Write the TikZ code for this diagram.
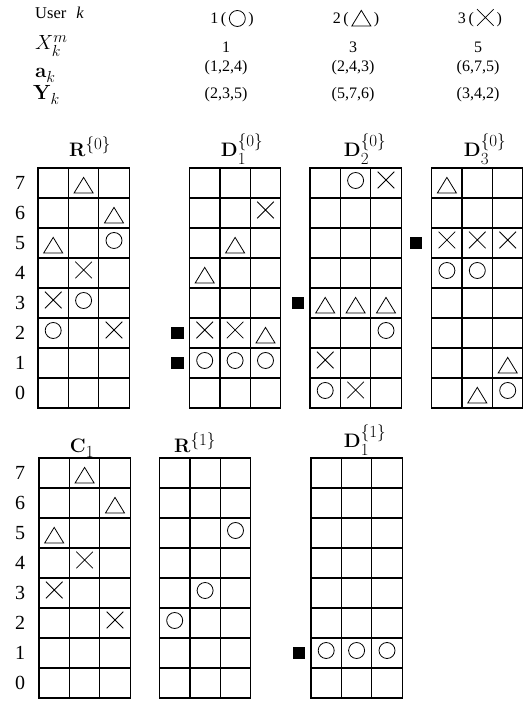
\RequirePackage{fix-cm}
\documentclass[tikz,border=0pt]{standalone}
\usepackage{amsmath,amssymb}
\usepackage[no-math]{fontspec}
\setmainfont{Liberation Serif}
\usepackage{tikz}
\usetikzlibrary{positioning}
\DeclareMathSizes{19.5}{19.5}{17}{14}
\DeclareMathSizes{20.5}{20.5}{16}{13}

\tikzset{
  cellgrid/.style={line width=1.3pt, line cap=rect},
  symline/.style={line width=0.8pt},
  hdr/.style={inner sep=0pt, font=\fontsize{16.5}{19}\selectfont},
  hval/.style={inner sep=0pt, anchor=base, font=\fontsize{16}{19}\selectfont},
  mathlab/.style={inner sep=0pt, anchor=base west, font=\fontsize{20.5}{24}\selectfont},
  ttl/.style={inner sep=0pt, anchor=base, font=\fontsize{19.5}{23}\selectfont},
  rowlab/.style={inner sep=0pt, font=\fontsize{20}{23}\selectfont},
  selbox/.style={fill=black, inner sep=0pt, minimum size=12.5pt},
  board/.pic={
    \foreach \c in {0,...,3} \draw[cellgrid] (\c,0) -- (\c,8);
    \foreach \r in {0,...,8} \draw[cellgrid] (0,\r) -- (3,\r);
  },
  circ/.pic={\draw[symline] (0,2.5pt) circle[radius=8pt];},
  tri/.pic={\draw[symline] (-9.5pt,-10pt) -- (9.5pt,-10pt) -- (0,5.6pt) -- cycle;},
  crs/.pic={\draw[symline] (-8.3pt,-5.3pt) -- (8.3pt,11.3pt) (-8.3pt,11.3pt) -- (8.3pt,-5.3pt);}
}
% symbol of a user inside a header text
\newcommand{\usym}[2]{\tikz[baseline=#2, x=1pt, y=1pt, scale=0.85]\pic{#1};}

\begin{document}
\begin{tikzpicture}[x=1pt, y=1pt]
  \useasboundingbox (0,0) rectangle (522,703);

  % Header table
  \node[hdr, anchor=base west] (user) at (35,684) {User\hspace{0.6em}\textit{k}};
  \node[mathlab] (xm) at (35,653) {$X_k^m$};
  \node[mathlab] (ak) at (35,625) {$\mathbf{a}_k$};
  \node[mathlab] (yk) at (33,603) {$\mathbf{Y}_k$};

  \node[hval] (u1) at (232,679) {1\,(\,\usym{circ}{-3pt}\,)};
  \node[hval] (u2) at (356,679) {2\,(\,\usym{tri}{-8pt}\,)};
  \node[hval] (u3) at (480,679) {3\,(\,\usym{crs}{-3.5pt}\,)};
  \node[hval] (x1) at (226,650) {1};
  \node[hval] (x2) at (353,650) {3};
  \node[hval] (x3) at (478,650) {5};
  \node[hval] (a1) at (226,631) {(1,2,4)};
  \node[hval] (a2) at (353,631) {(2,4,3)};
  \node[hval] (a3) at (478,631) {(6,7,5)};
  \node[hval] (y1) at (226,604) {(2,3,5)};
  \node[hval] (y2) at (353,604) {(5,7,6)};
  \node[hval] (y3) at (478,604) {(3,4,2)};

  % Row numbers
  \foreach \r in {0,...,7} {
    \node[rowlab] (top\r) at (20,{310+30*\r}) {\r};
    \node[rowlab] (bot\r) at (20,{20+30*\r}) {\r};
  }

  % Titles
  \node[ttl] (tR0) at (90,546) {$\mathbf{R}^{\{0\}}$};
  \node[ttl] (tD1) at (242,546) {$\mathbf{D}_1^{\{0\}}$};
  \node[ttl] (tD2) at (365,546) {$\mathbf{D}_2^{\{0\}}$};
  \node[ttl] (tD3) at (485,546) {$\mathbf{D}_3^{\{0\}}$};
  \node[ttl] (tC1) at (82,250) {$\mathbf{C}_1$};
  \node[ttl] (tR1) at (195,250) {$\mathbf{R}^{\{1\}}$};
  \node[ttl] (tD1b) at (365,255) {$\mathbf{D}_1^{\{1\}}$};

  % R^{0}
  \begin{scope}[shift={(38,295)}, x=30.4pt, y=30pt]
    \pic {board};
    \pic at (1.5,7.5) {tri};
    \pic at (2.5,6.5) {tri};
    \pic at (0.5,5.5) {tri};
    \pic at (2.5,5.5) {circ};
    \pic at (1.5,4.5) {crs};
    \pic at (0.5,3.5) {crs};
    \pic at (1.5,3.5) {circ};
    \pic at (0.5,2.5) {circ};
    \pic at (2.5,2.5) {crs};
  \end{scope}

  % D_1^{0}
  \begin{scope}[shift={(189.5,295)}, x=30.4pt, y=30pt]
    \pic {board};
    \pic at (2.5,6.5) {crs};
    \pic at (1.5,5.5) {tri};
    \pic at (0.5,4.5) {tri};
    \pic at (0.5,2.5) {crs};
    \pic at (1.5,2.5) {crs};
    \pic at (2.5,2.5) {tri};
    \foreach \c in {0,1,2} \pic at (\c+0.5,1.5) {circ};
    \node[selbox] (m1) at (-0.4,2.5) {};
    \node[selbox] (m2) at (-0.4,1.5) {};
  \end{scope}

  % D_2^{0}
  \begin{scope}[shift={(310,295)}, x=30.4pt, y=30pt]
    \pic {board};
    \pic at (1.5,7.5) {circ};
    \pic at (2.5,7.5) {crs};
    \foreach \c in {0,1,2} \pic at (\c+0.5,3.5) {tri};
    \pic at (2.5,2.5) {circ};
    \pic at (0.5,1.5) {crs};
    \pic at (0.5,0.5) {circ};
    \pic at (1.5,0.5) {crs};
    \node[selbox] (m3) at (-0.4,3.5) {};
  \end{scope}

  % D_3^{0}
  \begin{scope}[shift={(431.7,295)}, x=30.4pt, y=30pt]
    \pic {board};
    \pic at (0.5,7.5) {tri};
    \foreach \c in {0,1,2} \pic at (\c+0.5,5.5) {crs};
    \pic at (0.5,4.5) {circ};
    \pic at (1.5,4.5) {circ};
    \pic at (2.5,1.5) {tri};
    \pic at (1.5,0.5) {tri};
    \pic at (2.5,0.5) {circ};
    \node[selbox] (m4) at (-0.51,5.5) {};
  \end{scope}

  % C_1
  \begin{scope}[shift={(39,5)}, x=30.4pt, y=30pt]
    \pic {board};
    \pic at (1.5,7.5) {tri};
    \pic at (2.5,6.5) {tri};
    \pic at (0.5,5.5) {tri};
    \pic at (1.5,4.5) {crs};
    \pic at (0.5,3.5) {crs};
    \pic at (2.5,2.5) {crs};
  \end{scope}

  % R^{1}
  \begin{scope}[shift={(159.5,5)}, x=30.4pt, y=30pt]
    \pic {board};
    \pic at (2.5,5.5) {circ};
    \pic at (1.5,3.5) {circ};
    \pic at (0.5,2.5) {circ};
  \end{scope}

  % D_1^{1}
  \begin{scope}[shift={(311,5)}, x=30.4pt, y=30pt]
    \pic {board};
    \foreach \c in {0,1,2} \pic at (\c+0.5,1.5) {circ};
    \node[selbox] (m5) at (-0.4,1.5) {};
  \end{scope}
\end{tikzpicture}
\end{document}
